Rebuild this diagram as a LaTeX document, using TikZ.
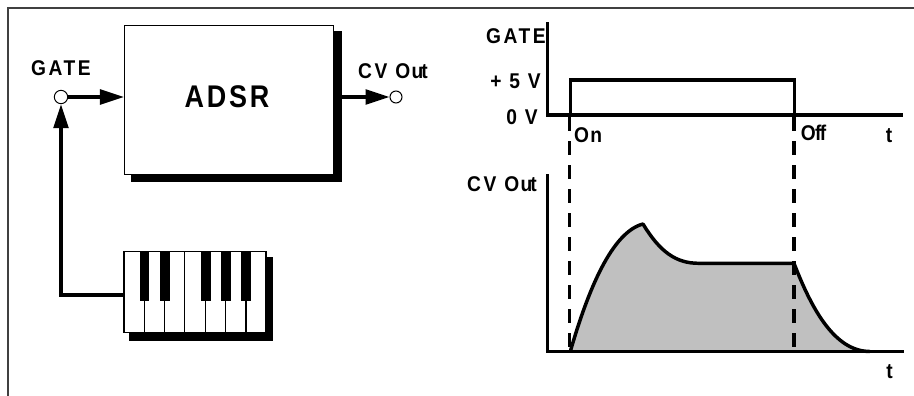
\documentclass[tikz,border=0pt]{standalone}
\usepackage{fontspec}
\setmainfont{Liberation Sans}[LetterSpace=12,FakeStretch=0.9]
\newfontfamily\adsrfont{Liberation Sans}[LetterSpace=9,FakeStretch=0.86]
\usetikzlibrary{arrows.meta}
\definecolor{framec}{HTML}{404040}
\definecolor{envfill}{HTML}{C0C0C0}
\tikzset{
  x=0.75pt,y=-0.75pt,
  lab/.style={inner sep=0pt,font=\fontsize{16}{16}\selectfont\bfseries,anchor=center},
  wire/.style={line width=2.6pt,line cap=butt},
  head/.style={-{Triangle[length=18pt,width=11pt,inset=0pt]}},
  port/.style={circle,draw,fill=white,line width=0.75pt,minimum size=10pt,inner sep=0pt},
  boxw/.style={rectangle,draw,fill=white,line width=0.8pt,inner sep=0pt},
  axisl/.style={line width=2.6pt,line cap=butt,line join=miter},
  dashl/.style={line width=2.7pt,dash pattern=on 10.5pt off 7.5pt},
}
\begin{document}
\begin{tikzpicture}
\useasboundingbox (0,0) rectangle (914,396);
% frame
\draw[framec,line width=1.3pt] (8,396) -- (8,8) -- (914,8);
% ADSR
\fill (131,31) rectangle (341.5,181.5);
\node[boxw,minimum width=156.75pt,minimum height=112pt] (adsr) at (229,100.2) {};
\node[lab,font=\adsrfont\fontsize{23.5}{24}\selectfont\bfseries] (adsrt) at (227,97) {ADSR};
\node[port] (gate) at (61,97) {};
\node[port,minimum size=9pt] (cvout) at (396,97) {};
\node[lab] (gatet) at (61,68) {GATE};
\node[lab] (cvt) at (393,71) {CV O\kern1pt u\kern-1.5pt t};
\coordinate (adsrin) at (adsr.west |- gate);
\coordinate (adsrout) at (341.5,97);
\draw[wire,head] (gate) -- (adsrin);
\draw[wire,head] (adsrout) -- (cvout);
% keyboard
\fill (129,257) rectangle (272.5,340.5);
\node[boxw,minimum width=106.5pt,minimum height=60.5pt] (keys) at (195,292) {};
\foreach \kx in {144.5,164.5,205.5,225.5,246} \draw[line width=0.8pt] (\kx,300) -- (\kx,332);
\draw[line width=0.8pt] (184.5,252) -- (184.5,332);
\foreach \kx in {139.5,160,201,221,241} \fill (\kx,252) rectangle (\kx+9.5,301);
\coordinate (kbdout) at (keys.west |- 0,295);
\draw[wire,line join=miter,head] (kbdout) -- (61,295) -- (gate);
% gate plot
\node[lab] (g2) at (516,36) {GATE};
\node[lab] (v5) at (515.5,81) {+ 5 V};
\node[lab] (v0) at (522,117) {0 V};
\node[lab] (on) at (588,135) {O\kern1pt n};
\node[lab] (off) at (813.5,132.5) {O\kern-0.5pt f\kern-1.2pt f};
\node[lab] (t1) at (889,136) {t};
\draw[axisl] (547.7,22) -- (547.7,115) -- (903,115);
\draw[axisl] (570.3,115) -- (570.3,79.8) -- (794.3,79.8) -- (794.3,115);
% envelope
\node[lab] (cv2) at (502,184) {CV O\kern1pt u\kern-1.5pt t};
\node[lab] (t2) at (889.5,372) {t};
\fill[envfill] (570.3,351.5) .. controls (588,290) and (612,232) .. (643,224)
  .. controls (660,252) and (676,263.3) .. (698.7,263.3) -- (794,263.3)
  .. controls (812,310) and (835,351.5) .. (870,351.5) -- cycle;
\draw[line width=2.6pt,line join=round] (570.3,351.5) .. controls (588,290) and (612,232) .. (643,224)
  .. controls (660,252) and (676,263.3) .. (698.7,263.3) -- (794,263.3)
  .. controls (812,310) and (835,351.5) .. (870,351.5);
\draw[axisl] (547.7,174) -- (547.7,351.5) -- (904,351.5);
\draw[dashl] (569.5,117) -- (569.5,350);
\draw[dashl] (793.7,117) -- (793.7,350);
\end{tikzpicture}
\end{document}
